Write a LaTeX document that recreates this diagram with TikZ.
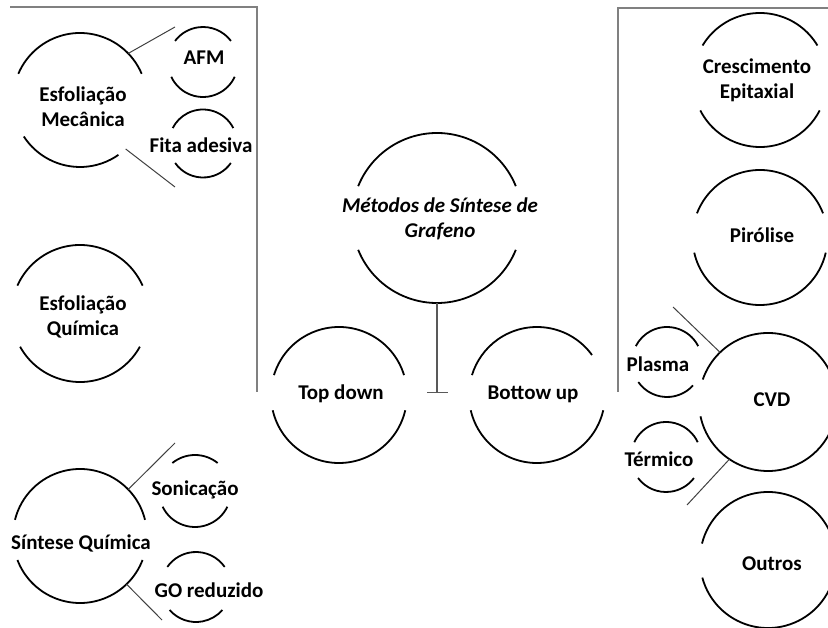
\documentclass[tikz,border=0pt]{standalone}
\usepackage{fontspec}
\setmainfont{Carlito}
\usetikzlibrary{arrows.meta}
\newcommand\ringarcs[6]{%
  \draw[arcline] (#1.#3) arc[start angle=#3, end angle=#4, radius=#2pt];
  \draw[arcline] (#1.#5) arc[start angle=#5, end angle=#6, radius=#2pt];}
\begin{document}
\begin{tikzpicture}[x=1pt,y=1pt,
  ring/.style={circle, draw=none, inner sep=0pt, outer sep=0pt, minimum size=#1},
  arcline/.style={line width=1.8pt, black},
  conn/.style={line width=1pt, black!75},
  frame/.style={line width=1.3pt, black!50},
  teeline/.style={line width=1.3pt, black!65, -{Bar[width=21pt, line width=1.3pt]}},
  lbl/.style={font=\fontsize{21}{25}\selectfont\bfseries, align=center, inner sep=0pt},
  ttl/.style={font=\fontsize{21}{25}\selectfont\bfseries\itshape, align=center, inner sep=0pt},
]
\useasboundingbox (0,0) rectangle (828,-628);

% frames
\draw[frame] (10,-7) -- (257,-7) -- (257,-392);
\draw[frame] (828,-8) -- (618,-8) -- (618,-392);

% ring shapes
\node[ring=134pt] (em) at (80,-100) {};
\node[ring=70pt] (afm) at (203,-62) {};
\node[ring=68pt] (fita) at (203,-143.5) {};
\node[ring=137pt] (eq) at (80,-313.5) {};
\node[ring=134pt] (sq) at (80,-536) {};
\node[ring=72pt] (son) at (195,-491) {};
\node[ring=70pt] (go) at (196,-587) {};
\node[ring=170pt] (title) at (437,-218) {};
\node[ring=136pt] (td) at (339,-395) {};
\node[ring=136pt] (bu) at (537,-395) {};
\node[ring=134pt] (ce) at (760,-80) {};
\node[ring=135pt] (pir) at (760,-237.5) {};
\node[ring=138pt] (cvd) at (768,-402) {};
\node[ring=70pt] (pla) at (667,-362) {};
\node[ring=70pt] (ter) at (666,-457) {};
\node[ring=136pt] (out) at (768,-560) {};

% arcs
\ringarcs{em}{67}{23}{157}{213}{305}
\ringarcs{afm}{35}{37}{143}{205}{335}
\ringarcs{fita}{34}{27}{153}{215}{325}
\ringarcs{eq}{68.5}{24}{156}{209}{331}
\ringarcs{sq}{67}{14}{166}{201}{339}
\ringarcs{son}{36}{51}{129}{206}{334}
\ringarcs{go}{35}{35}{145}{221}{319}
\ringarcs{title}{85}{22}{158}{202}{338}
\ringarcs{td}{68}{17}{163}{193}{347}
\ringarcs{bu}{68}{36}{163}{193}{347}
\ringarcs{ce}{67}{31}{149}{207}{333}
\ringarcs{pir}{67.5}{21}{159}{193}{347}
\ringarcs{cvd}{69}{19}{161}{192}{348}
\ringarcs{pla}{35}{27}{153}{215}{318}
\ringarcs{ter}{35}{25}{155}{217}{323}
\ringarcs{out}{68}{14}{166}{195}{345}

% connectors
\coordinate (emA) at (175,-27);
\coordinate (emB) at (175,-187);
\coordinate (sqA) at (175,-443);
\coordinate (sqB) at (162,-620);
\coordinate (cvdA) at (673,-307);
\coordinate (cvdB) at (687,-505);
\coordinate (tee) at (437,-393);
\draw[conn] (em.44) -- (emA);
\draw[conn] (em.313) -- (emB);
\draw[conn] (sq.44) -- (sqA);
\draw[conn] (sq.314) -- (sqB);
\draw[conn] (cvd.134) -- (cvdA);
\draw[conn] (cvd.236) -- (cvdB);
\draw[teeline] (title.270) -- (tee);

% labels
\node[lbl] (tem) at (83,-106.5) {Esfoliação\\Mecânica};
\node[lbl, anchor=base] (tafm) at (204,-65) {AFM};
\node[lbl, anchor=base] (tfita) at (201,-153) {Fita adesiva};
\node[lbl] (teq) at (83,-317) {Esfoliação\\Química};
\node[lbl, anchor=base] (tsq) at (81,-549) {Síntese Química};
\node[lbl, anchor=base] (tson) at (195,-495) {Sonicação};
\node[lbl, anchor=base] (tgo) at (209,-597) {GO reduzido};
\node[ttl] (ttitle) at (440,-219) {Métodos de Síntese de\\Grafeno};
\node[lbl, anchor=base] (ttd) at (341,-400) {Top down};
\node[lbl, anchor=base] (tbu) at (533,-400) {Bottow up};
\node[lbl] (tce) at (757,-80) {Crescimento\\Epitaxial};
\node[lbl, anchor=base] (tpir) at (762,-243) {Pirólise};
\node[lbl, anchor=base] (tcvd) at (772,-407) {CVD};
\node[lbl, anchor=base] (tpla) at (658,-372) {Plasma};
\node[lbl, anchor=base] (tter) at (659,-467) {Térmico};
\node[lbl, anchor=base] (tout) at (772,-570) {Outros};
\end{tikzpicture}
\end{document}
